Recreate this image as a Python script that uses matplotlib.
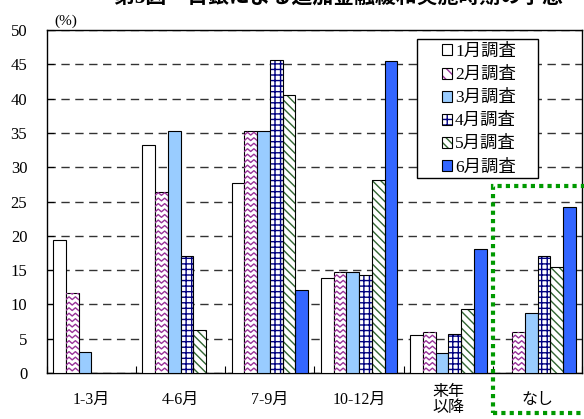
import matplotlib.pyplot as plt
import numpy as np
from matplotlib.patches import Patch, Rectangle
from matplotlib.legend_handler import HandlerTuple

plt.rcParams['font.family'] = ['Liberation Serif', 'Noto Sans CJK JP']

# data
categories = ['1-3月', '4-6月', '7-9月', '10-12月', '来年\n以降', 'なし']
series = ['1月調査', '2月調査', '3月調査', '4月調査', '5月調査', '6月調査']
jan = [19.4, 33.3, 27.7, 13.9, 5.5, 0]
feb = [11.7, 26.4, 35.3, 14.7, 5.9, 5.9]
mar = [3.0, 35.3, 35.3, 14.7, 2.9, 8.8]
apr = [0, 17.1, 45.7, 14.3, 5.7, 17.1]
may = [0, 6.2, 40.6, 28.1, 9.3, 15.5]
jun = [0, 0, 12.1, 45.5, 18.1, 24.2]
values = [jan, feb, mar, apr, may, jun]

faces = ['white', 'white', '#99ccff', 'white', 'white', '#3366ff']
hatches = [None, 'zigzag', None, '+++', '\\\\\\\\', None]
hatch_cols = [None, '#993399', None, '#000080', '#336633', None]

fig = plt.figure(figsize=(5.84, 4.19), dpi=100)
ax = fig.add_axes([0.080, 0.110, 0.917, 0.818])

x = np.arange(len(categories))
w = 0.143
handles = []
for i, (vals, fc, h, hc) in enumerate(zip(values, faces, hatches, hatch_cols)):
    pos = x + (i - 2.5) * w
    if h is None:
        ax.bar(pos, vals, w, color=fc, edgecolor='black', linewidth=0.8, zorder=3)
        handles.append(Patch(facecolor=fc, edgecolor='black', linewidth=0.8))
    elif h == 'zigzag':
        bars = ax.bar(pos, vals, w, color='white', edgecolor='black', linewidth=0.8, zorder=3)
        # zigzag fill drawn inside each bar
        for b in bars:
            x0, bw, bh = b.get_x(), b.get_width(), b.get_height()
            if bh <= 0:
                continue
            zx = np.linspace(x0, x0 + bw, 5)
            for yy in np.arange(0.3, bh + 0.8, 0.8):
                zy = yy + np.array([0, 0.4, 0, 0.4, 0])
                ln, = ax.plot(zx, zy, color=hc, linewidth=1.0, zorder=3.5)
                ln.set_clip_path(b)
        handles.append((Patch(facecolor='white', edgecolor=hc, hatch='\\\\\\', linewidth=0),
                        Patch(fill=False, edgecolor='black', linewidth=0.8)))
    else:
        ax.bar(pos, vals, w, color='white', edgecolor=hc, hatch=h, linewidth=0, zorder=3)
        ax.bar(pos, vals, w, fill=False, edgecolor='black', linewidth=0.8, zorder=4)
        handles.append((Patch(facecolor='white', edgecolor=hc, hatch=h, linewidth=0),
                        Patch(fill=False, edgecolor='black', linewidth=0.8)))

ax.set_xlim(-0.5, 5.5)
ax.set_ylim(0, 50)
ax.set_yticks(np.arange(0, 51, 5))
ax.yaxis.grid(True, linestyle=(0, (6, 4)), color='#333333', linewidth=1.0)
ax.set_axisbelow(True)
ax.tick_params(axis='y', direction='in', length=5, pad=14, labelsize=12)

ax.set_xticks(np.arange(-0.5, 5.6, 1))
ax.set_xticklabels([])
ax.set_xticks(x, minor=True)
ax.set_xticklabels(categories, minor=True, fontsize=11.5, linespacing=1.0)
ax.tick_params(axis='x', which='major', direction='in', length=5)
ax.tick_params(axis='x', which='minor', length=0, pad=19.5)
for lab in ax.get_xticklabels(minor=True):
    lab.set_verticalalignment('center')

for s in ax.spines.values():
    s.set_linewidth(1.0)

ax.text(0.015, 1.005, '(%)', transform=ax.transAxes, fontsize=11, va='bottom')

# legend box drawn separately so it can be wider than its content
ax.add_patch(Rectangle((0.692, 0.569), 0.226, 0.405, transform=ax.transAxes,
                       facecolor='white', edgecolor='black', linewidth=1.0, zorder=5))
leg = ax.legend(handles, series, handler_map={tuple: HandlerTuple(ndivide=1)},
                loc='center', bbox_to_anchor=(0.807, 0.768), fontsize=12.5,
                frameon=False, handlelength=0.6, handleheight=0.6, handletextpad=0.15,
                labelspacing=0.4, borderpad=0, borderaxespad=0)
leg.set_zorder(6)

# dotted highlight around the last group
ax.add_patch(Rectangle((4.5, -5.8), 1.3, 33.1, fill=False, edgecolor='#009900',
                       linewidth=3, linestyle=(0, (1, 1)), clip_on=False, zorder=7))

fig.text(0.58, 1.006, '第3図　日銀による追加金融緩和実施時期の予想', ha='center', va='center',
         fontsize=15, fontweight='bold')

fig.savefig('out.png', dpi=100)
